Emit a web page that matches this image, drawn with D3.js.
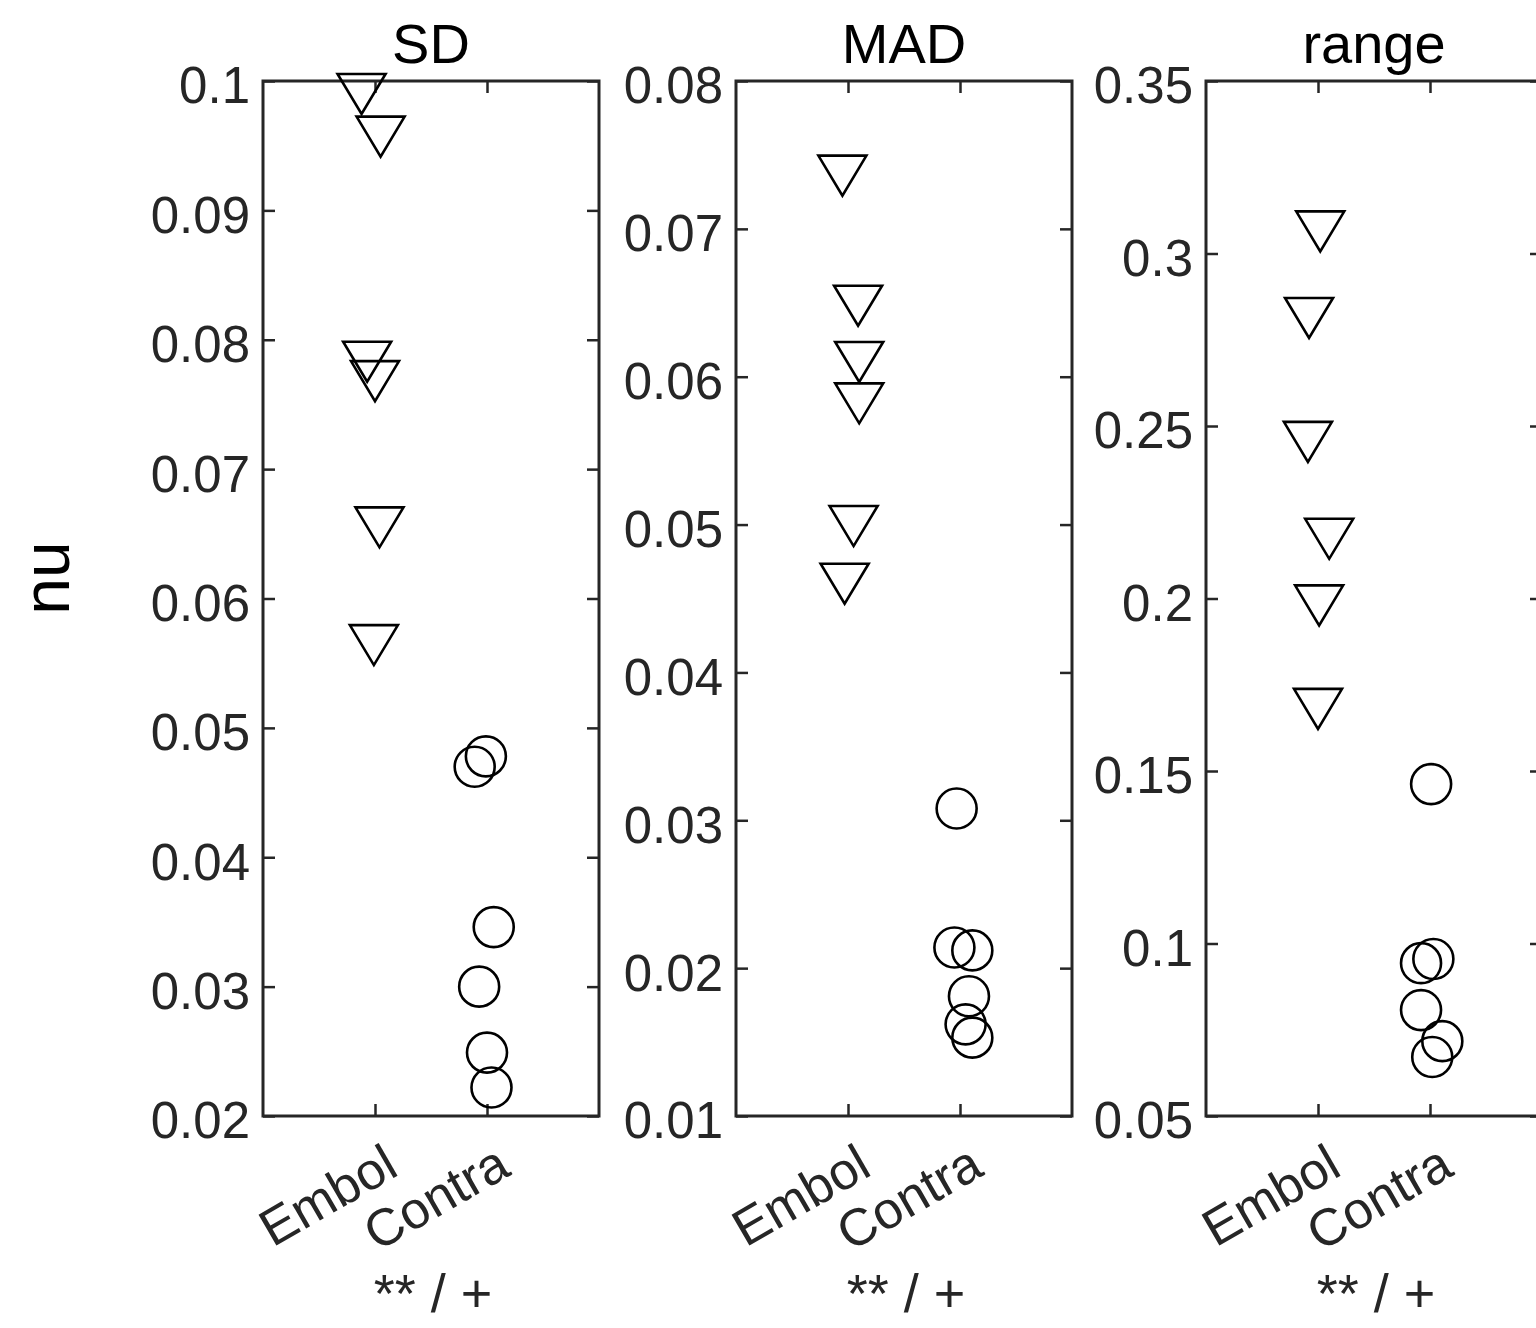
<!DOCTYPE html>
<meta charset="utf-8">
<script src="https://d3js.org/d3.v7.min.js"></script>
<style>
  body { margin: 0; background: #fff; }
  text { font-family: "Liberation Sans", Arial, Helvetica, sans-serif; }
</style>
<div id="my_dataviz"></div>
<script>

// categories and panels
var groups = ["Embol", "Contra"];
var titles = ["SD", "MAD", "range"];
var signif = ["** / +", "** / +", "** / +"];

// SD
var sdTicks = [0.02, 0.03, 0.04, 0.05, 0.06, 0.07, 0.08, 0.09, 0.1];
var sdEmbolX = [0.88, 1.05, 0.93, 1.00, 1.04, 0.99];
var sdEmbol  = [0.0990, 0.0957, 0.0783, 0.0768, 0.0655, 0.0564];
var sdContraX = [1.99, 1.89, 2.06, 1.93, 2.00, 2.04];
var sdContra  = [0.0478, 0.0470, 0.0346, 0.0300, 0.0249, 0.0222];

// MAD
var madTicks = [0.01, 0.02, 0.03, 0.04, 0.05, 0.06, 0.07, 0.08];
var madEmbolX = [0.95, 1.09, 1.10, 1.10, 1.05, 0.97];
var madEmbol  = [0.0736, 0.0648, 0.0610, 0.0582, 0.0499, 0.0460];
var madContraX = [1.97, 1.95, 2.11, 2.08, 2.05, 2.11];
var madContra  = [0.0308, 0.0214, 0.0212, 0.0181, 0.0162, 0.0153];

// range
var rangeTicks = [0.05, 0.1, 0.15, 0.2, 0.25, 0.3, 0.35];
var rangeEmbolX = [1.02, 0.92, 0.91, 1.10, 1.01, 1.00];
var rangeEmbol  = [0.3064, 0.2813, 0.2454, 0.2173, 0.1980, 0.1680];
var rangeContraX = [2.01, 1.92, 2.03, 1.92, 2.11, 2.02];
var rangeContra  = [0.1462, 0.0943, 0.0955, 0.0807, 0.0717, 0.0671];

var panels = [
  {title: titles[0], sig: signif[0], ticks: sdTicks,    ex: sdEmbolX,    ey: sdEmbol,    cx: sdContraX,    cy: sdContra},
  {title: titles[1], sig: signif[1], ticks: madTicks,   ex: madEmbolX,   ey: madEmbol,   cx: madContraX,   cy: madContra},
  {title: titles[2], sig: signif[2], ticks: rangeTicks, ex: rangeEmbolX, ey: rangeEmbol, cx: rangeContraX, cy: rangeContra}
];

var W = 1536, H = 1328;
var lefts = [263, 736, 1206];
var pw = 336, plotTop = 81, plotBottom = 1116;
var ink = "#262626";

var svg = d3.select("#my_dataviz")
  .append("svg")
    .attr("width", W)
    .attr("height", H);

// y label
svg.append("text")
  .attr("transform", "translate(69,578) rotate(-90)")
  .attr("text-anchor", "middle")
  .style("font-size", "66px")
  .style("fill", "#000")
  .text("nu");

panels.forEach(function(p, i) {
  var left = lefts[i];
  var g = svg.append("g");

  var x = d3.scaleLinear().domain([0, 3]).range([left, left + pw]);
  var y = d3.scaleLinear().domain(d3.extent(p.ticks)).range([plotBottom, plotTop]);

  // left axis with labels, ticks inward
  var ya = g.append("g")
    .attr("transform", "translate(" + left + ",0)")
    .call(d3.axisLeft(y).tickValues(p.ticks).tickSize(-12).tickPadding(13)
      .tickFormat(function(d){ return String(+d.toFixed(4)); }));
  ya.selectAll("text").style("font-size", "51px").style("fill", ink).attr("dy", "0.43em");

  // right axis
  g.append("g")
    .attr("transform", "translate(" + (left + pw) + ",0)")
    .call(d3.axisRight(y).tickValues(p.ticks).tickSize(-12).tickFormat(""));

  // top axis
  g.append("g")
    .attr("transform", "translate(0," + plotTop + ")")
    .call(d3.axisTop(x).tickValues([1, 2]).tickSize(-12).tickFormat(""));

  // bottom axis with rotated labels
  var xa = g.append("g")
    .attr("transform", "translate(0," + plotBottom + ")")
    .call(d3.axisBottom(x).tickValues([1, 2]).tickSize(-12)
      .tickFormat(function(d){ return groups[d - 1]; }));
  xa.selectAll("text")
    .attr("y", null).attr("dy", null)
    .attr("text-anchor", "end")
    .attr("transform", "translate(25,58) rotate(-30)")
    .style("font-size", "52px").style("fill", ink);

  g.selectAll(".domain").remove();
  g.selectAll(".tick line").attr("stroke", ink).attr("stroke-width", 2.5);

  // box
  g.append("rect")
    .attr("x", left).attr("y", plotTop)
    .attr("width", pw).attr("height", plotBottom - plotTop)
    .attr("fill", "none").attr("stroke", ink).attr("stroke-width", 3);

  // title
  g.append("text")
    .attr("x", left + pw / 2).attr("y", 63)
    .attr("text-anchor", "middle")
    .style("font-size", "56px").style("fill", "#000")
    .text(p.title);

  // significance
  g.append("text")
    .attr("x", left + pw / 2 + 2).attr("y", 1312)
    .attr("text-anchor", "middle")
    .style("font-size", "54px").style("fill", ink)
    .text(p.sig);

  // Embol triangles
  var tri = d3.range(p.ey.length).map(function(k){ return {x: p.ex[k], y: p.ey[k]}; });
  g.selectAll("path.tri")
    .data(tri)
    .enter().append("path")
      .attr("class", "tri")
      .attr("d", function(d){
        var cx = x(d.x), cy = y(d.y);
        return "M" + (cx - 24) + "," + (cy - 20) + "L" + (cx + 24) + "," + (cy - 20) + "L" + cx + "," + (cy + 20) + "Z";
      })
      .attr("fill", "none").attr("stroke", "#000").attr("stroke-width", 2.6)
      .attr("stroke-linejoin", "miter");

  // Contra circles
  var circ = d3.range(p.cy.length).map(function(k){ return {x: p.cx[k], y: p.cy[k]}; });
  g.selectAll("circle.ct")
    .data(circ)
    .enter().append("circle")
      .attr("class", "ct")
      .attr("cx", function(d){ return x(d.x); })
      .attr("cy", function(d){ return y(d.y); })
      .attr("r", 20)
      .attr("fill", "none").attr("stroke", "#000").attr("stroke-width", 2.6);
});

</script>
